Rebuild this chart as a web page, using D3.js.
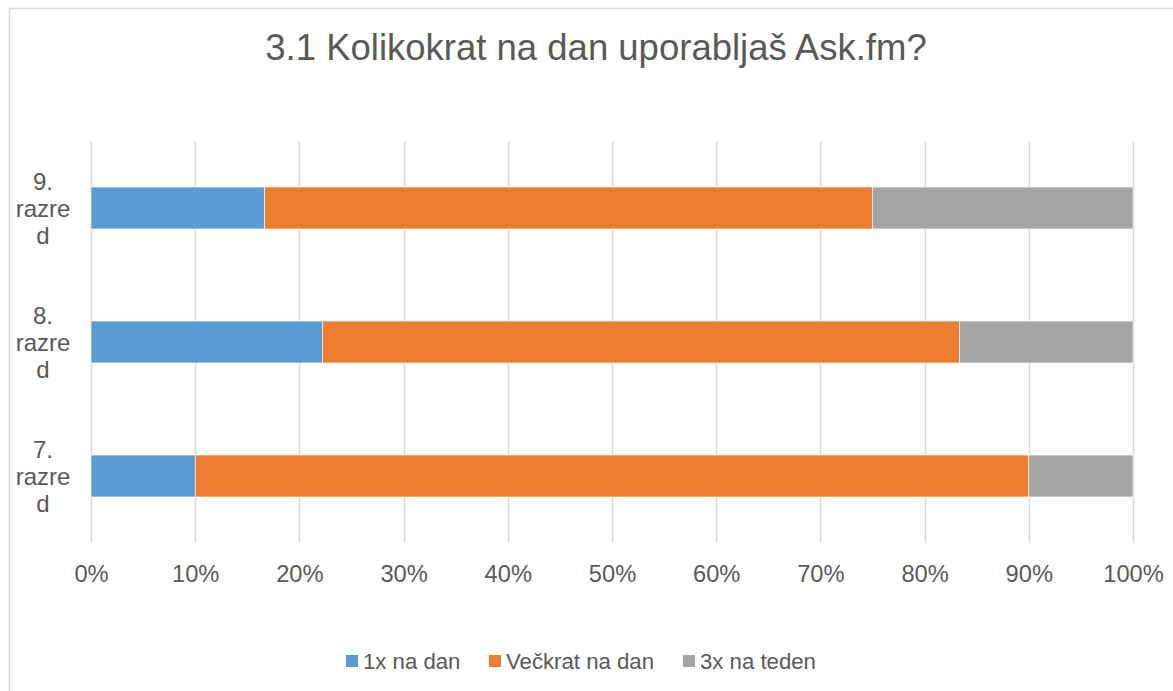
<!DOCTYPE html>
<html><head><meta charset="utf-8">
<script src="https://cdn.jsdelivr.net/npm/d3@7"></script>
<style>body{margin:0;background:#fff}svg{display:block;font-family:"Liberation Sans",Arial,sans-serif}</style>
</head><body>
<svg id="c" width="1173" height="691"></svg>
<script>
const categories = ["9. razred", "8. razred", "7. razred"];
const categoryLines = [["9.", "razre", "d"], ["8.", "razre", "d"], ["7.", "razre", "d"]];
const seriesNames = ["1x na dan", "Večkrat na dan", "3x na teden"];
const seriesColors = ["#5B9BD5", "#ED7D31", "#A5A5A5"];
const val1xNaDan = [0.1667, 0.2222, 0.10];
const valVeckrat = [0.5833, 0.6111, 0.80];
const val3xNaTeden = [0.25, 0.1667, 0.10];
const tickValues = [0,0.1,0.2,0.3,0.4,0.5,0.6,0.7,0.8,0.9,1];
const chartTitle = "3.1 Kolikokrat na dan uporabljaš Ask.fm?";

(function(){
const svg = d3.select("#c");
svg.append("rect").attr("x",9.5).attr("y",8.5).attr("width",1300).attr("height",900)
  .attr("fill","#fff").attr("stroke","#D9D9D9").attr("stroke-width",1.5);

svg.append("text").attr("x",596).attr("y",60).attr("text-anchor","middle")
  .attr("font-size",36.5).attr("fill","#595959").text(chartTitle);

const pl = 91, pr = 1133, pt = 141, pb = 543;
const x = d3.scaleLinear().domain([0,1]).range([pl,pr]);
const y = d3.scaleBand().domain(categories).range([pt,pb]).paddingInner(0.687).paddingOuter(0.3435);

// gridlines
svg.append("g").selectAll("line").data(tickValues).join("line")
  .attr("x1",d=>Math.round(x(d))+0.5).attr("x2",d=>Math.round(x(d))+0.5)
  .attr("y1",pt).attr("y2",pb).attr("stroke","#D9D9D9").attr("stroke-width",1.5);

// tick labels
const xAxis = d3.axisBottom(x).tickValues(tickValues).tickFormat(d3.format(".0%")).tickSize(0).tickPadding(0);
const ax = svg.append("g").attr("transform",`translate(0,${pb})`).call(xAxis);
ax.select(".domain").remove();
ax.selectAll("text").attr("font-size",23.7).attr("fill","#595959")
  .attr("font-family","Liberation Sans, Arial, sans-serif").attr("dy",null).attr("y",39);

// stacked data
const data = categories.map((c,i)=>({cat:c, s0:val1xNaDan[i], s1:valVeckrat[i], s2:val3xNaTeden[i]}));
const stack = d3.stack().keys(["s0","s1","s2"])(data);
svg.append("g").selectAll("g").data(stack).join("g")
  .attr("fill",(d,i)=>seriesColors[i])
  .selectAll("rect").data(d=>d).join("rect")
  .attr("x",d=>x(d[0])).attr("width",d=>x(d[1])-x(d[0]))
  .attr("y",d=>y(d.data.cat)).attr("height",y.bandwidth())
  .attr("stroke","#fff").attr("stroke-width",0.6);

// y labels
const yl = svg.append("g");
categories.forEach((c,i)=>{
  const cy = y(c)+y.bandwidth()/2;
  const t = yl.append("text").attr("text-anchor","middle").attr("font-size",24).attr("fill","#595959");
  categoryLines[i].forEach((ln,j)=>{
    t.append("tspan").attr("x",43).attr("y",cy+8.5+(j-1)*27).text(ln);
  });
});

// legend
const legendX = [346, 489, 683];
const lg = svg.append("g");
seriesNames.forEach((n,i)=>{
  lg.append("rect").attr("x",legendX[i]).attr("y",655).attr("width",12).attr("height",12).attr("fill",seriesColors[i]);
  lg.append("text").attr("x",legendX[i]+17).attr("y",669).attr("font-size",22.2).attr("fill","#595959").text(n);
});
})();
</script>
</body></html>
